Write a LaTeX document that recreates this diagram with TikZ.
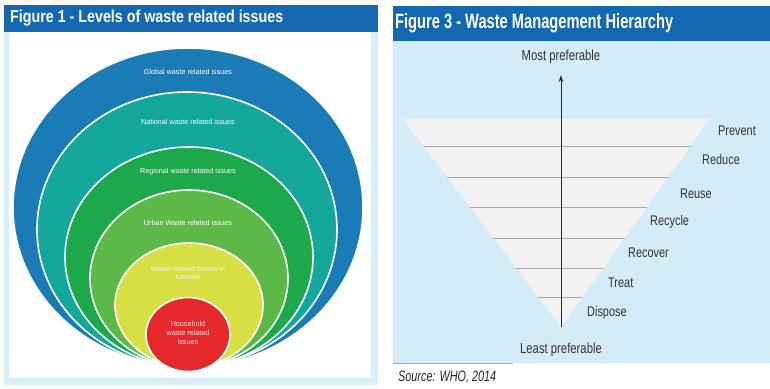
\documentclass[tikz,border=0pt]{standalone}
\usepackage{graphicx}
\usepackage{fontspec}
\setmainfont{Liberation Sans}
\newfontfamily\cond[FakeStretch=0.78]{Liberation Sans}
\newfontfamily\srcfont[FakeStretch=0.85]{Open Sans}
\usetikzlibrary{arrows.meta,calc}
\definecolor{titleblue}{HTML}{1468B2}
\definecolor{framebg}{HTML}{D9EEF9}
\definecolor{rightbg}{HTML}{D4EBF8}
\definecolor{ringA}{HTML}{1A7BB6}
\definecolor{ringB}{HTML}{14A89C}
\definecolor{ringC}{HTML}{1DA84C}
\definecolor{ringD}{HTML}{5DB947}
\definecolor{ringE}{HTML}{D8DF42}
\definecolor{ringF}{HTML}{E4282B}
\definecolor{trifill}{HTML}{F2F2F2}
\definecolor{tline}{HTML}{A8A8A8}
\definecolor{labtext}{HTML}{333333}
\tikzset{
  ring/.style={draw=white, line width=1.6pt},
  ringlabel/.style={text=white, font=\fontsize{7.2}{8.6}\selectfont, align=center, inner sep=0pt},
  hierlabel/.style={text=labtext, font=\cond\fontsize{14}{16}\selectfont, anchor=west, inner sep=0pt},
  endlabel/.style={text=labtext, font=\cond\fontsize{14.5}{16}\selectfont, inner sep=0pt},
  tierline/.style={draw=tline, line width=0.8pt},
}
\begin{document}
\begin{tikzpicture}[x=1pt,y=-1pt]
\useasboundingbox (0,0) rectangle (770,388);
\fill[white] (0,0) rectangle (770,388);

% ---------- left panel ----------
\fill[framebg] (4,5) rectangle (378,385);
\fill[white] (9,32) rectangle (371,378);
\fill[titleblue] (4,5) rectangle (378,32);
\node[anchor=west, inner sep=0pt, text=white] (title1) at (10,18.5)
  {\resizebox{273pt}{12.5pt}{\bfseries Figure 1 - Levels of waste related issues}};

\fill[ringA, ring] (188,207.5) ellipse [x radius=175, y radius=159.5];
\fill[ringB, ring] (187,229.5) ellipse [x radius=150, y radius=137.5];
\fill[ringC, ring] (189,257) ellipse [x radius=124, y radius=110];
\fill[ringD, ring] (189,278.5) ellipse [x radius=99, y radius=88.5];
\fill[ringE, ring] (189,305) ellipse [x radius=74, y radius=62];
\fill[ringF, ring] (188,334.5) ellipse [x radius=42, y radius=37];

\node[ringlabel] (global) at (188,72) {Global waste related issues};
\node[ringlabel] (national) at (188,122) {National waste related issues};
\node[ringlabel] (regional) at (188,172) {Regional waste related issues};
\node[ringlabel] (urban) at (188,223) {Urban Waste related issues};
\node[ringlabel, text=white!85!ringE] (locality) at (188,273.5) {Waste related issues in\\Locality};
\node[ringlabel, text=white!90!ringF] (household) at (188,333) {Household\\waste related\\issues};

% ---------- right panel ----------
\fill[rightbg] (393,40) rectangle (770,363);
\fill[titleblue] (393,6) rectangle (770,41);
\node[anchor=west, inner sep=0pt, text=white] (title3) at (395,23.5)
  {\resizebox{278pt}{15pt}{\bfseries Figure 3 - Waste Management Hierarchy}};

\coordinate (TL) at (403,119);
\coordinate (TR) at (710,119);
\coordinate (AP) at (561,327);
\fill[trifill] (TL) -- (TR) -- (AP) -- cycle;
\foreach \t in {0.1298,0.2788,0.4231,0.5721,0.7163,0.8558}
  \draw[tierline] ($(TL)!\t!(AP)$) -- ($(TR)!\t!(AP)$);

\node[endlabel] (most) at (561,57) {Most preferable};
\node[endlabel] (least) at (561,350) {Least preferable};
\coordinate (arrowtop) at (561,75);
\draw[draw=black!85, line width=0.9pt, -{Stealth[length=7pt,width=4.5pt]}] (AP) -- (arrowtop);

\node[hierlabel] (prevent) at (718,131) {Prevent};
\node[hierlabel] (reduce) at (702,159) {Reduce};
\node[hierlabel] (reuse) at (680,194) {Reuse};
\node[hierlabel] (recycle) at (650,222) {Recycle};
\node[hierlabel] (recover) at (628,253) {Recover};
\node[hierlabel] (treat) at (608,283) {Treat};
\node[hierlabel] (dispose) at (587,313) {Dispose};

\coordinate (srcL) at (393,363.5);
\coordinate (srcR) at (513,363.5);
\draw[draw=black!35, line width=0.6pt] (srcL) -- (srcR);
\node[anchor=west, inner sep=0pt, text=black!85] (source) at (398,377)
  {\resizebox{98pt}{10.5pt}{\itshape Source: WHO, 2014}};
\end{tikzpicture}
\end{document}
